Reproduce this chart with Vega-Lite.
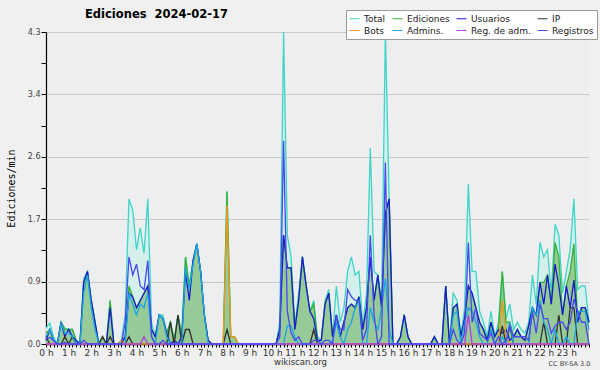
{
"$schema": "https://vega.github.io/schema/vega-lite/v6.json",
"width": 543, "height": 312,
"autosize": "none",
"padding": {"left": 46, "top": 32, "right": 11, "bottom": 26},
"background": "#f0f0f0",
"title": {"text": "Ediciones\u00a0\u00a02024-02-17", "anchor": "start", "frame": "group", "dx": 39, "dy": 11, "offset": 0, "font": "DejaVu Sans", "fontSize": 11.5, "fontWeight": "bold", "color": "#000"},
"config": {"view": {"fill": "#eceef0", "stroke": null}},
"data": {"values": [
{"m":0,"tot":0.22,"ed":0.15,"us":0.05,"ip":0.1,"bo":0,"ad":0.1,"ra":0,"re":0.07},
{"m":10,"tot":0.29,"ed":0.2,"us":0.2,"ip":0,"bo":0,"ad":0.2,"ra":0,"re":0.09},
{"m":20,"tot":0.1,"ed":0.05,"us":0.05,"ip":0,"bo":0,"ad":0.05,"ra":0,"re":0.05},
{"m":30,"tot":0,"ed":0,"us":0,"ip":0,"bo":0,"ad":0,"ra":0,"re":0},
{"m":40,"tot":0.3,"ed":0.3,"us":0.3,"ip":0,"bo":0,"ad":0.28,"ra":0,"re":0},
{"m":50,"tot":0.22,"ed":0.2,"us":0.1,"ip":0.1,"bo":0,"ad":0.15,"ra":0,"re":0.02},
{"m":60,"tot":0.2,"ed":0.2,"us":0.2,"ip":0,"bo":0,"ad":0.15,"ra":0,"re":0},
{"m":70,"tot":0.2,"ed":0.2,"us":0.1,"ip":0.1,"bo":0,"ad":0.1,"ra":0,"re":0},
{"m":80,"tot":0.05,"ed":0.05,"us":0.05,"ip":0,"bo":0,"ad":0,"ra":0,"re":0},
{"m":90,"tot":0,"ed":0,"us":0,"ip":0,"bo":0,"ad":0,"ra":0,"re":0},
{"m":100,"tot":0.9,"ed":0.85,"us":0.85,"ip":0,"bo":0,"ad":0.7,"ra":0,"re":0.05},
{"m":110,"tot":1.0,"ed":1.0,"us":1.0,"ip":0,"bo":0,"ad":0.95,"ra":0,"re":0},
{"m":120,"tot":0.6,"ed":0.6,"us":0.6,"ip":0,"bo":0,"ad":0.5,"ra":0,"re":0},
{"m":130,"tot":0.3,"ed":0.3,"us":0.3,"ip":0,"bo":0,"ad":0.2,"ra":0,"re":0},
{"m":140,"tot":0,"ed":0,"us":0,"ip":0,"bo":0,"ad":0,"ra":0,"re":0},
{"m":150,"tot":0.1,"ed":0.1,"us":0,"ip":0.1,"bo":0,"ad":0,"ra":0,"re":0},
{"m":160,"tot":0,"ed":0,"us":0,"ip":0,"bo":0,"ad":0,"ra":0,"re":0},
{"m":170,"tot":0.6,"ed":0.6,"us":0.5,"ip":0.1,"bo":0,"ad":0,"ra":0,"re":0},
{"m":180,"tot":0,"ed":0,"us":0,"ip":0,"bo":0,"ad":0,"ra":0,"re":0},
{"m":190,"tot":0,"ed":0,"us":0,"ip":0,"bo":0,"ad":0,"ra":0,"re":0},
{"m":200,"tot":0.05,"ed":0.05,"us":0,"ip":0,"bo":0.05,"ad":0,"ra":0,"re":0},
{"m":210,"tot":0.4,"ed":0.1,"us":0.1,"ip":0,"bo":0,"ad":0,"ra":0,"re":0.3},
{"m":220,"tot":2.0,"ed":0.8,"us":0.7,"ip":0.1,"bo":0,"ad":0.7,"ra":0,"re":1.2},
{"m":230,"tot":1.85,"ed":0.65,"us":0.65,"ip":0,"bo":0,"ad":0.55,"ra":0,"re":0.95},
{"m":240,"tot":1.3,"ed":0.5,"us":0.5,"ip":0,"bo":0,"ad":0.4,"ra":0,"re":1.1},
{"m":250,"tot":1.6,"ed":0.6,"us":0.6,"ip":0,"bo":0,"ad":0.55,"ra":0,"re":0.8},
{"m":260,"tot":1.25,"ed":0.7,"us":0.7,"ip":0,"bo":0,"ad":0.5,"ra":0.1,"re":0.75},
{"m":270,"tot":2.0,"ed":0.8,"us":0.8,"ip":0,"bo":0,"ad":0.7,"ra":0,"re":1.15},
{"m":280,"tot":0.3,"ed":0.2,"us":0.2,"ip":0,"bo":0,"ad":0.1,"ra":0,"re":0.1},
{"m":290,"tot":0.1,"ed":0.1,"us":0.1,"ip":0,"bo":0,"ad":0,"ra":0,"re":0},
{"m":300,"tot":0.4,"ed":0.4,"us":0.4,"ip":0,"bo":0,"ad":0.4,"ra":0,"re":0},
{"m":310,"tot":0.4,"ed":0.35,"us":0.35,"ip":0,"bo":0,"ad":0.35,"ra":0,"re":0.05},
{"m":320,"tot":0.15,"ed":0.15,"us":0.15,"ip":0,"bo":0,"ad":0.1,"ra":0,"re":0},
{"m":330,"tot":0.3,"ed":0.3,"us":0,"ip":0.3,"bo":0,"ad":0,"ra":0,"re":0},
{"m":340,"tot":0.05,"ed":0.05,"us":0.05,"ip":0,"bo":0,"ad":0,"ra":0,"re":0},
{"m":350,"tot":0.4,"ed":0.4,"us":0,"ip":0.4,"bo":0,"ad":0,"ra":0,"re":0},
{"m":360,"tot":0.1,"ed":0.1,"us":0.1,"ip":0,"bo":0,"ad":0,"ra":0,"re":0},
{"m":370,"tot":1.2,"ed":1.2,"us":1.0,"ip":0.2,"bo":0,"ad":1.05,"ra":0,"re":0},
{"m":380,"tot":0.8,"ed":0.8,"us":0.6,"ip":0.2,"bo":0,"ad":0.75,"ra":0,"re":0},
{"m":390,"tot":1.15,"ed":1.15,"us":1.15,"ip":0,"bo":0,"ad":1.1,"ra":0,"re":0},
{"m":400,"tot":1.38,"ed":1.38,"us":1.38,"ip":0,"bo":0,"ad":1.38,"ra":0,"re":0},
{"m":410,"tot":1.0,"ed":1.0,"us":1.0,"ip":0,"bo":0,"ad":1.0,"ra":0,"re":0},
{"m":420,"tot":0.4,"ed":0.4,"us":0.4,"ip":0,"bo":0,"ad":0.4,"ra":0,"re":0},
{"m":430,"tot":0.05,"ed":0.05,"us":0.05,"ip":0,"bo":0,"ad":0,"ra":0,"re":0},
{"m":440,"tot":0,"ed":0,"us":0,"ip":0,"bo":0,"ad":0,"ra":0,"re":0},
{"m":450,"tot":0,"ed":0,"us":0,"ip":0,"bo":0,"ad":0,"ra":0,"re":0},
{"m":460,"tot":0,"ed":0,"us":0,"ip":0,"bo":0,"ad":0,"ra":0,"re":0},
{"m":470,"tot":0,"ed":0,"us":0,"ip":0,"bo":0,"ad":0,"ra":0,"re":0},
{"m":480,"tot":2.1,"ed":2.1,"us":0,"ip":0.2,"bo":1.9,"ad":0,"ra":0,"re":0},
{"m":490,"tot":0.1,"ed":0.1,"us":0,"ip":0,"bo":0.1,"ad":0,"ra":0,"re":0},
{"m":500,"tot":0.1,"ed":0.1,"us":0,"ip":0,"bo":0.1,"ad":0,"ra":0,"re":0},
{"m":510,"tot":0,"ed":0,"us":0,"ip":0,"bo":0,"ad":0,"ra":0,"re":0},
{"m":520,"tot":0,"ed":0,"us":0,"ip":0,"bo":0,"ad":0,"ra":0,"re":0},
{"m":530,"tot":0,"ed":0,"us":0,"ip":0,"bo":0,"ad":0,"ra":0,"re":0},
{"m":540,"tot":0,"ed":0,"us":0,"ip":0,"bo":0,"ad":0,"ra":0,"re":0},
{"m":550,"tot":0,"ed":0,"us":0,"ip":0,"bo":0,"ad":0,"ra":0,"re":0},
{"m":560,"tot":0,"ed":0,"us":0,"ip":0,"bo":0,"ad":0,"ra":0,"re":0},
{"m":570,"tot":0,"ed":0,"us":0,"ip":0,"bo":0,"ad":0,"ra":0,"re":0},
{"m":580,"tot":0,"ed":0,"us":0,"ip":0,"bo":0,"ad":0,"ra":0,"re":0},
{"m":590,"tot":0,"ed":0,"us":0,"ip":0,"bo":0,"ad":0,"ra":0,"re":0},
{"m":600,"tot":0,"ed":0,"us":0,"ip":0,"bo":0,"ad":0,"ra":0,"re":0},
{"m":610,"tot":0,"ed":0,"us":0,"ip":0,"bo":0,"ad":0,"ra":0,"re":0},
{"m":620,"tot":0.3,"ed":0.2,"us":0.2,"ip":0,"bo":0,"ad":0,"ra":0,"re":0.1},
{"m":630,"tot":4.3,"ed":1.5,"us":1.5,"ip":0,"bo":0,"ad":0,"ra":0,"re":2.8},
{"m":640,"tot":1.5,"ed":1.05,"us":1.05,"ip":0,"bo":0,"ad":0.25,"ra":0,"re":0.45},
{"m":650,"tot":1.2,"ed":1.05,"us":1.05,"ip":0,"bo":0,"ad":0.25,"ra":0,"re":0.15},
{"m":660,"tot":0.25,"ed":0.2,"us":0.2,"ip":0,"bo":0,"ad":0.1,"ra":0,"re":0.05},
{"m":670,"tot":0.7,"ed":0.6,"us":0.6,"ip":0,"bo":0,"ad":0,"ra":0,"re":0.1},
{"m":680,"tot":1.2,"ed":1.2,"us":1.2,"ip":0,"bo":0,"ad":0,"ra":0,"re":0},
{"m":690,"tot":0.8,"ed":0.8,"us":0.8,"ip":0,"bo":0,"ad":0,"ra":0,"re":0},
{"m":700,"tot":0.45,"ed":0.45,"us":0.45,"ip":0,"bo":0,"ad":0,"ra":0,"re":0},
{"m":710,"tot":0.6,"ed":0.55,"us":0.35,"ip":0.2,"bo":0,"ad":0,"ra":0,"re":0.05},
{"m":720,"tot":0.1,"ed":0.05,"us":0.05,"ip":0,"bo":0,"ad":0,"ra":0,"re":0.05},
{"m":730,"tot":0.05,"ed":0.05,"us":0.05,"ip":0,"bo":0,"ad":0,"ra":0,"re":0},
{"m":740,"tot":0.6,"ed":0.55,"us":0.55,"ip":0,"bo":0,"ad":0,"ra":0,"re":0.05},
{"m":750,"tot":0.75,"ed":0.7,"us":0.7,"ip":0,"bo":0,"ad":0,"ra":0,"re":0.05},
{"m":760,"tot":0.1,"ed":0.1,"us":0.1,"ip":0,"bo":0,"ad":0.05,"ra":0,"re":0},
{"m":770,"tot":0.8,"ed":0.4,"us":0.4,"ip":0,"bo":0,"ad":0.3,"ra":0,"re":0.4},
{"m":780,"tot":0.3,"ed":0.1,"us":0.1,"ip":0,"bo":0,"ad":0.1,"ra":0,"re":0.2},
{"m":790,"tot":0.5,"ed":0.3,"us":0.3,"ip":0,"bo":0,"ad":0,"ra":0,"re":0.2},
{"m":800,"tot":1.0,"ed":0.5,"us":0.5,"ip":0,"bo":0,"ad":0.2,"ra":0,"re":0.75},
{"m":810,"tot":1.2,"ed":0.55,"us":0.55,"ip":0,"bo":0,"ad":0.3,"ra":0,"re":0.65},
{"m":820,"tot":0.95,"ed":0.5,"us":0.5,"ip":0,"bo":0,"ad":0.5,"ra":0,"re":0.6},
{"m":830,"tot":1.0,"ed":0.65,"us":0.65,"ip":0,"bo":0,"ad":0.6,"ra":0,"re":0.6},
{"m":840,"tot":0.25,"ed":0.2,"us":0.2,"ip":0,"bo":0,"ad":0,"ra":0,"re":0.05},
{"m":850,"tot":0.7,"ed":0.5,"us":0.5,"ip":0,"bo":0,"ad":0,"ra":0,"re":0.2},
{"m":860,"tot":2.7,"ed":1.2,"us":1.2,"ip":0,"bo":0,"ad":0.5,"ra":0,"re":1.5},
{"m":870,"tot":1.0,"ed":0.6,"us":0.6,"ip":0,"bo":0,"ad":0.3,"ra":0,"re":0.4},
{"m":880,"tot":0.95,"ed":0.95,"us":0.95,"ip":0,"bo":0,"ad":0.2,"ra":0,"re":0},
{"m":890,"tot":0.6,"ed":0.5,"us":0.5,"ip":0,"bo":0,"ad":0.5,"ra":0,"re":0.1},
{"m":900,"tot":4.3,"ed":1.8,"us":1.8,"ip":0,"bo":0,"ad":0.9,"ra":0,"re":2.5},
{"m":910,"tot":2.0,"ed":2.0,"us":2.0,"ip":0,"bo":0,"ad":0.2,"ra":0,"re":0},
{"m":920,"tot":0,"ed":0,"us":0,"ip":0,"bo":0,"ad":0,"ra":0,"re":0},
{"m":930,"tot":0,"ed":0,"us":0,"ip":0,"bo":0,"ad":0,"ra":0,"re":0},
{"m":940,"tot":0.1,"ed":0.1,"us":0.1,"ip":0,"bo":0,"ad":0,"ra":0,"re":0},
{"m":950,"tot":0.4,"ed":0.4,"us":0.4,"ip":0,"bo":0,"ad":0,"ra":0,"re":0},
{"m":960,"tot":0.1,"ed":0.1,"us":0.1,"ip":0,"bo":0,"ad":0,"ra":0,"re":0},
{"m":970,"tot":0,"ed":0,"us":0,"ip":0,"bo":0,"ad":0,"ra":0,"re":0},
{"m":980,"tot":0,"ed":0,"us":0,"ip":0,"bo":0,"ad":0,"ra":0,"re":0},
{"m":990,"tot":0,"ed":0,"us":0,"ip":0,"bo":0,"ad":0,"ra":0,"re":0},
{"m":1000,"tot":0,"ed":0,"us":0,"ip":0,"bo":0,"ad":0,"ra":0,"re":0},
{"m":1010,"tot":0,"ed":0,"us":0,"ip":0,"bo":0,"ad":0,"ra":0,"re":0},
{"m":1020,"tot":0,"ed":0,"us":0,"ip":0,"bo":0,"ad":0,"ra":0,"re":0},
{"m":1030,"tot":0.1,"ed":0.1,"us":0.1,"ip":0,"bo":0,"ad":0,"ra":0,"re":0},
{"m":1040,"tot":0,"ed":0,"us":0,"ip":0,"bo":0,"ad":0,"ra":0,"re":0},
{"m":1050,"tot":0,"ed":0,"us":0,"ip":0,"bo":0,"ad":0,"ra":0,"re":0},
{"m":1060,"tot":0.8,"ed":0.8,"us":0.8,"ip":0,"bo":0,"ad":0,"ra":0,"re":0},
{"m":1070,"tot":0,"ed":0,"us":0,"ip":0,"bo":0,"ad":0,"ra":0,"re":0},
{"m":1080,"tot":0.7,"ed":0.5,"us":0.5,"ip":0,"bo":0,"ad":0.4,"ra":0,"re":0.2},
{"m":1090,"tot":0.6,"ed":0.55,"us":0.55,"ip":0,"bo":0,"ad":0.45,"ra":0,"re":0.05},
{"m":1100,"tot":0.1,"ed":0.1,"us":0.1,"ip":0,"bo":0,"ad":0,"ra":0,"re":0},
{"m":1110,"tot":0.5,"ed":0.35,"us":0.35,"ip":0,"bo":0,"ad":0.3,"ra":0,"re":0.15},
{"m":1120,"tot":2.2,"ed":0.8,"us":0.8,"ip":0,"bo":0,"ad":0.5,"ra":0.4,"re":1.4},
{"m":1130,"tot":1.0,"ed":0.7,"us":0.7,"ip":0,"bo":0,"ad":0.45,"ra":0,"re":0.3},
{"m":1140,"tot":1.0,"ed":0.5,"us":0.5,"ip":0,"bo":0,"ad":0.3,"ra":0,"re":0.5},
{"m":1150,"tot":0.45,"ed":0.3,"us":0.3,"ip":0,"bo":0,"ad":0.1,"ra":0,"re":0.15},
{"m":1160,"tot":0.3,"ed":0.2,"us":0.2,"ip":0,"bo":0,"ad":0,"ra":0,"re":0.1},
{"m":1170,"tot":0.1,"ed":0.05,"us":0.05,"ip":0,"bo":0,"ad":0,"ra":0,"re":0.05},
{"m":1180,"tot":0.45,"ed":0.3,"us":0.3,"ip":0,"bo":0,"ad":0.2,"ra":0,"re":0.15},
{"m":1190,"tot":0.1,"ed":0.1,"us":0.1,"ip":0,"bo":0,"ad":0,"ra":0,"re":0},
{"m":1200,"tot":0.3,"ed":0.2,"us":0.2,"ip":0,"bo":0,"ad":0,"ra":0,"re":0.1},
{"m":1210,"tot":1.0,"ed":1.0,"us":0.15,"ip":0.25,"bo":0.6,"ad":0.1,"ra":0,"re":0},
{"m":1220,"tot":0.35,"ed":0.3,"us":0.2,"ip":0,"bo":0.1,"ad":0,"ra":0,"re":0.05},
{"m":1230,"tot":0.55,"ed":0.3,"us":0.05,"ip":0.25,"bo":0,"ad":0.3,"ra":0,"re":0.25},
{"m":1240,"tot":0.2,"ed":0.1,"us":0.1,"ip":0,"bo":0,"ad":0,"ra":0,"re":0.1},
{"m":1250,"tot":0.3,"ed":0.2,"us":0.2,"ip":0,"bo":0,"ad":0,"ra":0,"re":0.1},
{"m":1260,"tot":0.2,"ed":0.1,"us":0.1,"ip":0,"bo":0,"ad":0,"ra":0,"re":0.1},
{"m":1270,"tot":0.15,"ed":0.05,"us":0.05,"ip":0,"bo":0,"ad":0,"ra":0,"re":0.1},
{"m":1280,"tot":0.3,"ed":0.25,"us":0.25,"ip":0,"bo":0,"ad":0,"ra":0,"re":0.05},
{"m":1290,"tot":0.95,"ed":0.5,"us":0.5,"ip":0,"bo":0,"ad":0.5,"ra":0,"re":0.45},
{"m":1300,"tot":0.55,"ed":0.4,"us":0.4,"ip":0,"bo":0,"ad":0.4,"ra":0,"re":0.15},
{"m":1310,"tot":1.4,"ed":0.85,"us":0.85,"ip":0,"bo":0,"ad":0.6,"ra":0,"re":0.55},
{"m":1320,"tot":1.2,"ed":0.85,"us":0.55,"ip":0.3,"bo":0,"ad":0.3,"ra":0,"re":0.35},
{"m":1330,"tot":1.3,"ed":0.95,"us":0.95,"ip":0,"bo":0,"ad":0.2,"ra":0,"re":0.35},
{"m":1340,"tot":0.7,"ed":0.55,"us":0.55,"ip":0,"bo":0,"ad":0,"ra":0,"re":0.15},
{"m":1350,"tot":1.65,"ed":1.4,"us":1.1,"ip":0,"bo":0,"ad":0.2,"ra":0,"re":0.25},
{"m":1360,"tot":1.5,"ed":1.2,"us":0.8,"ip":0.4,"bo":0,"ad":0,"ra":0,"re":0.3},
{"m":1370,"tot":0.7,"ed":0.4,"us":0.4,"ip":0,"bo":0,"ad":0,"ra":0,"re":0.3},
{"m":1380,"tot":1.0,"ed":0.8,"us":0.8,"ip":0,"bo":0,"ad":0.1,"ra":0,"re":0.2},
{"m":1390,"tot":1.3,"ed":1.0,"us":0.5,"ip":0.5,"bo":0,"ad":0,"ra":0,"re":0.3},
{"m":1400,"tot":2.0,"ed":1.38,"us":0.88,"ip":0.5,"bo":0,"ad":0,"ra":0,"re":0.62},
{"m":1410,"tot":0.75,"ed":0.3,"us":0.3,"ip":0,"bo":0,"ad":0.45,"ra":0,"re":0.45},
{"m":1420,"tot":0.8,"ed":0.5,"us":0.5,"ip":0,"bo":0,"ad":0.45,"ra":0,"re":0.3},
{"m":1430,"tot":0.8,"ed":0.5,"us":0.5,"ip":0,"bo":0,"ad":0.45,"ra":0,"re":0.3},
{"m":1440,"tot":0.3,"ed":0.3,"us":0.3,"ip":0,"bo":0,"ad":0.2,"ra":0,"re":0}
]},
"transform": [{"fold": ["tot","ed","us","ip","bo","ad","ra","re"], "as": ["k","v"]}],
"encoding": {
  "x": {"field": "m", "type": "quantitative", "scale": {"domain": [0,1440], "nice": false},
    "axis": {
      "values": [0,10,20,30,40,50,60,70,80,90,100,110,120,130,140,150,160,170,180,190,200,210,220,230,240,250,260,270,280,290,300,310,320,330,340,350,360,370,380,390,400,410,420,430,440,450,460,470,480,490,500,510,520,530,540,550,560,570,580,590,600,610,620,630,640,650,660,670,680,690,700,710,720,730,740,750,760,770,780,790,800,810,820,830,840,850,860,870,880,890,900,910,920,930,940,950,960,970,980,990,1000,1010,1020,1030,1040,1050,1060,1070,1080,1090,1100,1110,1120,1130,1140,1150,1160,1170,1180,1190,1200,1210,1220,1230,1240,1250,1260,1270,1280,1290,1300,1310,1320,1330,1340,1350,1360,1370,1380,1390,1400,1410,1420,1430,1440],
      "labelExpr": "datum.value % 60 == 0 && datum.value < 1440 ? (datum.value/60) + ' h' : ''",
      "labelOverlap": false, "labelFlush": false, "grid": false,
      "labelFont": "DejaVu Sans", "labelFontSize": 9, "labelColor": "#333", "labelPadding": 1,
      "tickSize": 3, "tickColor": "#000", "domainColor": "#000", "domainWidth": 1.5,
      "title": "wikiscan.org", "titleFont": "DejaVu Sans", "titleFontSize": 8.5, "titleFontWeight": "normal", "titleColor": "#333",
      "titleX": 254, "titleY": 20, "titleBaseline": "alphabetic", "titleAlign": "center"
    }}
},
"layer": [
  {"transform": [{"filter": "datum.k == 'tot'"}],
   "mark": {"type": "area", "color": "#d3f0ed", "opacity": 1},
   "encoding": {"y": {"field": "v", "type": "quantitative", "scale": {"domain": [0,4.3], "nice": false},
     "axis": {
       "values": [0,0.43,0.86,1.29,1.72,2.15,2.58,3.01,3.44,3.87,4.3],
       "labelExpr": "round(datum.value/0.43) % 2 == 0 ? format(datum.value, '.1f') : ''",
       "gridColor": {"condition": {"test": "round(datum.value/0.43) % 2 == 0", "value": "#c8c8c8"}, "value": "transparent"},
       "grid": true,
       "labelFont": "DejaVu Sans", "labelFontSize": 8, "labelColor": "#444", "labelPadding": 1,
       "tickSize": 5, "tickColor": "#000", "domainColor": "#000", "domainWidth": 1.2,
       "title": "Ediciones/min", "titleFont": "DejaVu Sans Mono", "titleFontSize": 10, "titleFontWeight": "normal", "titleColor": "#000",
       "titleX": -32, "titleY": 156, "titleAngle": -90, "titleBaseline": "alphabetic", "titleAlign": "center"
     }}}},
  {"transform": [{"filter": "datum.k == 'ed'"}],
   "mark": {"type": "area", "color": "#96ca98", "opacity": 1},
   "encoding": {"y": {"field": "v", "type": "quantitative", "scale": {"domain": [0,4.3], "nice": false}, "axis": null}}},
  {"mark": {"type": "line", "strokeWidth": 1.3},
   "encoding": {
     "y": {"field": "v", "type": "quantitative", "scale": {"domain": [0,4.3], "nice": false},
       "axis": {"orient": "right", "domain": false, "ticks": false, "labels": false, "grid": false,
         "title": "CC BY-SA 3.0", "titleFont": "DejaVu Sans", "titleFontSize": 6.5, "titleFontWeight": "normal", "titleColor": "#444",
         "titleAngle": 0, "titleX": -20, "titleY": 333, "titleAlign": "center", "titleBaseline": "alphabetic"}},
     "color": {"field": "k", "type": "nominal",
       "scale": {"domain": ["tot","ed","us","ip","bo","ad","ra","re"],
                 "range": ["#40d4c4","#38b038","#1a1acc","#303030","#f0961e","#1ea6e0","#b43ce6","#4848f0"]},
       "legend": {"orient": "none", "legendX": 300, "legendY": -22, "direction": "horizontal", "columns": 4, "title": null,
         "symbolType": "stroke", "symbolSize": 100, "symbolStrokeWidth": 1, "labelFont": "DejaVu Sans", "labelFontSize": 9, "labelColor": "#222",
         "fillColor": "#ffffff", "strokeColor": "#999", "padding": 3, "rowPadding": 1, "columnPadding": 4, "labelOffset": 4,
         "labelExpr": "datum.label=='tot'?'Total':datum.label=='ed'?'Ediciones':datum.label=='us'?'Usuarios':datum.label=='ip'?'IP':datum.label=='bo'?'Bots':datum.label=='ad'?'Admins.':datum.label=='ra'?'Reg. de adm.':'Registros'"}}
   }}
],
"resolve": {"axis": {"y": "independent"}}
}
